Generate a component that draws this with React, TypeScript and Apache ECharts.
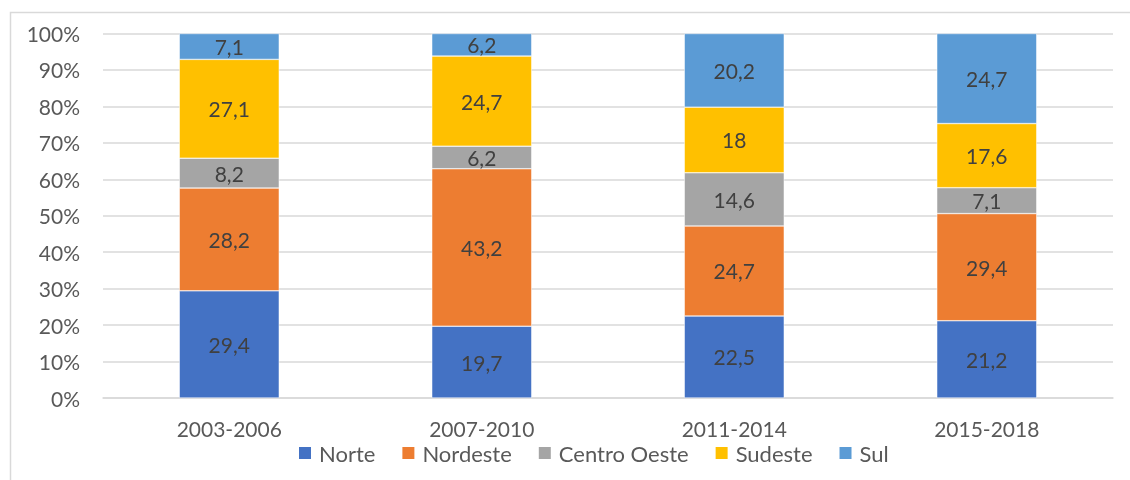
import React, { useEffect, useRef } from "react";
import * as echarts from "echarts";

const categories = ["2003-2006", "2007-2010", "2011-2014", "2015-2018"];
const seriesNames = ["Norte", "Nordeste", "Centro Oeste", "Sudeste", "Sul"];
const norte = [29.4, 19.7, 22.5, 21.2];
const nordeste = [28.2, 43.2, 24.7, 29.4];
const centroOeste = [8.2, 6.2, 14.6, 7.1];
const sudeste = [27.1, 24.7, 18, 17.6];
const sul = [7.1, 6.2, 20.2, 24.7];
const colors = ["#4472C4", "#ED7D31", "#A5A5A5", "#FFC000", "#5B9BD5"];

const FONT = "Lato, 'Noto Sans', sans-serif";

export default function App() {
  const ref = useRef<HTMLDivElement>(null);
  useEffect(() => {
    if (!ref.current) return;
    const chart = echarts.init(ref.current, null, { renderer: "svg" });
    const values = [norte, nordeste, centroOeste, sudeste, sul];
    chart.setOption({
      animation: false,
      textStyle: { fontFamily: FONT },
      graphic: [
        {
          type: "rect",
          shape: { x: 10.5, y: 12.5, width: 1140, height: 480 },
          style: { fill: "none", stroke: "#d9d9d9", lineWidth: 1.5 },
          silent: true,
        },
      ],
      grid: { left: 103, right: 17, top: 33.5, bottom: 82, containLabel: false },
      legend: {
        left: 292,
        top: 437,
        itemWidth: 14,
        itemHeight: 14,
        itemGap: 25,
        icon: "rect",
        data: seriesNames,
        textStyle: {
          fontFamily: FONT,
          fontSize: 22,
          lineHeight: 18,
          color: "#595959",
          padding: [0, 0, 0, 2],
        },
      },
      xAxis: {
        type: "category",
        data: categories,
        axisLine: { lineStyle: { color: "#d9d9d9", width: 1.5 } },
        axisTick: { show: false },
        axisLabel: {
          fontFamily: FONT,
          fontSize: 21,
          lineHeight: 15,
          color: "#595959",
          margin: 23,
        },
      },
      yAxis: {
        type: "value",
        min: 0,
        max: 100,
        interval: 10,
        axisLine: { show: false },
        axisTick: { show: false },
        splitLine: { lineStyle: { color: "#d9d9d9", width: 1.5 } },
        axisLabel: {
          fontFamily: FONT,
          fontSize: 21,
          color: "#595959",
          margin: 23,
          formatter: (v: number) => v + "%",
        },
      },
      series: seriesNames.map((name, i) => ({
        name,
        type: "bar",
        stack: "total",
        barWidth: "39.6%",
        data: values[i],
        itemStyle: { color: colors[i], borderColor: "#ffffff", borderWidth: 0.5 },
        label: {
          show: true,
          position: "inside",
          fontFamily: FONT,
          fontSize: 21,
          color: "#404040",
          formatter: (p: any) => String(p.value).replace(".", ","),
        },
      })),
    });
    return () => chart.dispose();
  }, []);
  return (
    <div
      ref={ref}
      style={{ position: "fixed", left: 0, top: 0, width: 1130, height: 480 }}
    />
  );
}
